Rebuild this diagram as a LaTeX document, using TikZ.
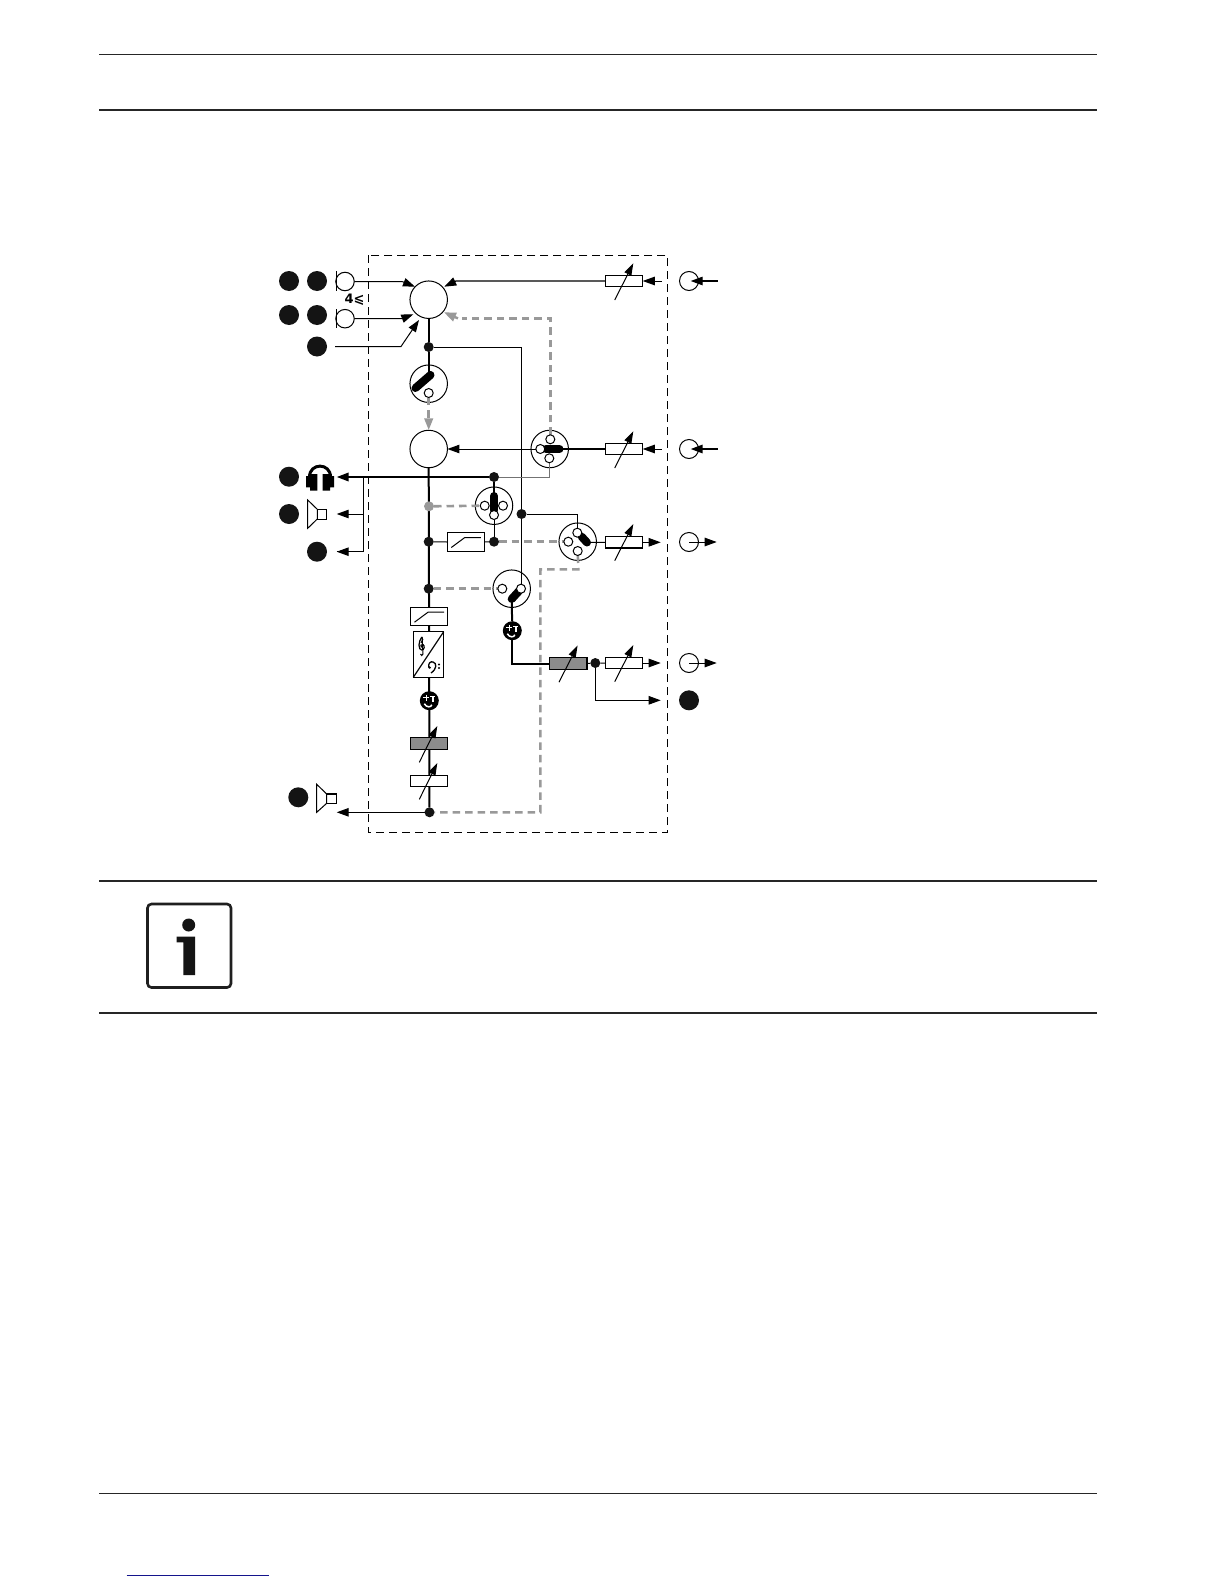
\documentclass[tikz,border=0pt]{standalone}
\usepackage{fontspec}
\setmainfont{Liberation Sans}
\newfontfamily\dejabold{DejaVu Sans}[BoldFont={DejaVu Sans Bold}]
\usetikzlibrary{arrows.meta,calc}
\pgfdeclarelayer{circs}
\pgfdeclarelayer{conns}
\pgfsetlayers{circs,conns,main}
\definecolor{pathgray}{gray}{0.6}
\definecolor{boxgray}{gray}{0.55}
\definecolor{linkblue}{RGB}{20,20,140}
\tikzset{
  x=1pt,y=-1pt,
  every node/.style={inner sep=0pt,outer sep=0pt},
  rulel/.style={line width=1.1pt,black!85},
  blackdot/.style={circle,fill=black!92,minimum size=20pt},
  jun/.style={circle,fill=black!92,minimum size=10pt},
  jungray/.style={circle,fill=pathgray,minimum size=10pt},
  bigc/.style={circle,draw=black,fill=white,line width=1pt,minimum size=37.5pt},
  contact/.style={circle,draw=black,fill=white,line width=1pt,minimum size=9pt},
  port/.style={circle,draw=black,fill=white,line width=1pt,minimum size=19pt},
  potbox/.style={draw=black,fill=white,line width=1pt,minimum width=37.5pt,minimum height=11.5pt},
  graybox/.style={draw=black,fill=boxgray,line width=1.4pt,minimum width=37.5pt,minimum height=11.5pt},
  filt/.style={draw=black,fill=white,line width=1pt,minimum width=37.5pt,minimum height=18.5pt},
  symb/.style={circle,fill=black,minimum size=19pt},
  thick line/.style={line width=2pt,black},
  thin line/.style={line width=1pt,black},
  tip/.style={-{Triangle[length=12pt,width=8.5pt]}},
  graydash/.style={line width=2.6pt,pathgray,dash pattern=on 7.5pt off 5pt},
  potarrow/.style={line width=1pt,black,-{Triangle[length=12pt,width=7.5pt]}},
  bar/.style={line width=8pt,line cap=round,black},
}
\newcommand{\filtersign}[1]{\draw[line width=1pt] ($(#1)+(-14.5,5.5)$) -- ($(#1)+(-1,-4.5)$) -- ($(#1)+(15,-4.5)$);}
\newcommand{\symmarks}[1]{%
  \draw[white,line width=1.5pt] ($(#1)+(-6,-3)$) -- ($(#1)+(0,-3)$) ($(#1)+(-3,-6)$) -- ($(#1)+(-3,0.5)$);
  \draw[white,line width=1.5pt] ($(#1)+(1,-4)$) -- ($(#1)+(6,-4)$) ($(#1)+(3.5,-4)$) -- ($(#1)+(3.5,1.5)$);
  \draw[white,line width=1.5pt] ($(#1)+(-5,3)$) .. controls ($(#1)+(-3,7)$) and ($(#1)+(2,7)$) .. ($(#1)+(2.5,4)$);
}
\begin{document}
\begin{tikzpicture}
\useasboundingbox (0,0) rectangle (1224,1584);
\begin{pgfonlayer}{circs}
\fill[white] (0,0) rectangle (1224,1584);
\end{pgfonlayer}
% page rules
\coordinate (ra1) at (99,54.5); \coordinate (ra2) at (1097,54.5);
\coordinate (rb1) at (99,110); \coordinate (rb2) at (1097,110);
\coordinate (rc1) at (99,881); \coordinate (rc2) at (1097,881);
\coordinate (rd1) at (99,1013); \coordinate (rd2) at (1097,1013);
\coordinate (re1) at (99,1493.5); \coordinate (re2) at (1097,1493.5);
\draw[rulel] (ra1)--(ra2); \draw[rulel] (rb1)--(rb2); \draw[rulel] (rc1)--(rc2); \draw[rulel] (rd1)--(rd2); \draw[rulel] (re1)--(re2);
\draw[line width=1.2pt,linkblue] (126.7,1575.3) -- (269,1575.3);
% info icon
\draw[line width=2.6pt,black!88,rounded corners=4pt] (147.5,904) rectangle (231,987.5);
\fill[black!92] (188.7,925) circle (6.5);
\fill[black!92] (176.7,936.7) -- (195,936.7) -- (195,975) -- (183.3,975) -- (183.3,942.3) -- (176.7,942.3) -- cycle;
% dashed enclosure
\begin{pgfonlayer}{circs}
\draw[line width=1pt,dash pattern=on 8pt off 5pt] (368.7,255) rectangle (667.3,832.7);
\end{pgfonlayer}
% left black dots
\node[blackdot] (d1) at (289,281) {};
\node[blackdot] (d2) at (317,281) {};
\node[blackdot] (d3) at (289,315) {};
\node[blackdot] (d4) at (317,315) {};
\node[blackdot] (d5) at (317,346.5) {};
\node[blackdot] (d6) at (289,476.7) {};
\node[blackdot] (d7) at (289,514) {};
\node[blackdot] (d8) at (317,551.7) {};
\node[blackdot] (d9) at (298.3,797.3) {};
\node[blackdot] (d10) at (689,700.3) {};
% mics
\node[port,minimum size=18.5pt] (mic1) at (345,281.5) {};
\node[port,minimum size=18.5pt] (mic2) at (345,318.7) {};
\draw[line width=1pt] (336,271) -- (336,291) (336,309) -- (336,327.5);
\node[font=\dejabold\bfseries\fontsize{13}{13}\selectfont] (four) at (354.5,299.5) {4⩽};
% headphones
\draw[line width=3pt] (309.5,477) .. controls (309.5,462.5) and (330.5,462.5) .. (330.5,477);
\fill[black] (306,476) rectangle (310,487.3) (310,474) rectangle (317.3,490.7) (322.7,474) rectangle (330,490.7) (330,476) rectangle (334,487.3);
% speakers
\draw[line width=1pt] (317.3,509.3) -- (307.7,500) -- (307.7,528.3) -- (317.3,519) -- cycle;
\draw[line width=1pt] (317.3,509.3) rectangle (326.7,519);
\draw[line width=1pt] (326.7,794) -- (316.7,784.3) -- (316.7,812.3) -- (326.7,803.3) -- cycle;
\draw[line width=1.4pt] (326.7,794) rectangle (336.7,803.3);
% large circles
\begin{pgfonlayer}{circs}
\node[bigc] (mixA) at (428.7,299.7) {};
\node[bigc] (mixB) at (428.7,449) {};
\node[bigc] (swA) at (428.7,383.7) {};
\node[bigc] (swB) at (549.7,449) {};
\node[bigc] (swC) at (494,505.7) {};
\node[bigc] (swD) at (577.7,541.7) {};
\node[bigc] (swE) at (511.7,588.7) {};
\end{pgfonlayer}
% switch bars
\coordinate (bA0) at (428.7,374);
\coordinate (bA1) at (430.5,375); \coordinate (bA2) at (415.5,388);
\coordinate (bB1) at (546,449); \coordinate (bB2) at (559.5,449);
\coordinate (bC1) at (494,496); \coordinate (bC2) at (494,510);
\coordinate (bD1) at (581.7,536.7); \coordinate (bD2) at (587,542.5);
\coordinate (bE1) at (519,591); \coordinate (bE2) at (511.7,599);
\draw[bar] (bA1)--(bA2); \draw[bar] (bB1)--(bB2); \draw[bar] (bC1)--(bC2); \draw[bar] (bD1)--(bD2); \draw[bar] (bE1)--(bE2);
% contacts
\node[contact] (cA) at (428.7,393) {};
\node[contact] (cBt) at (550.3,439.3) {};
\node[contact] (cBl) at (540.3,449) {};
\node[contact] (cBb) at (549.3,458.3) {};
\node[contact] (cCl) at (484.7,505.7) {};
\node[contact] (cCr) at (503,505.7) {};
\node[contact] (cCb) at (494,515) {};
\node[contact] (cDt) at (577.3,532.7) {};
\node[contact] (cDl) at (568.3,541.7) {};
\node[contact] (cDb) at (577.7,551) {};
\node[contact] (cEl) at (502.3,588.7) {};
\node[contact] (cEr) at (521,588.7) {};
% junctions
\node[jun] (j1) at (428.7,347) {};
\node[jun] (j2) at (494,477) {};
\node[jungray] (j3) at (429,506.3) {};
\node[jun] (j4) at (428.7,541.7) {};
\node[jun] (j5) at (494,541.7) {};
\node[jun] (j6) at (521.5,514) {};
\node[jun] (j7) at (428.7,588.7) {};
\node[jun] (j8) at (595.3,663) {};
\node[jun] (j9) at (429.5,812.3) {};
% filters, converter
\node[filt] (fA) at (465.8,542) {};
\filtersign{fA}
\node[filt] (fB) at (429,616.7) {};
\filtersign{fB}
\node[draw=black,fill=white,line width=1.2pt,minimum width=30.4pt,minimum height=45.6pt] (conv) at (428.5,654.5) {};
\draw[line width=1.2pt] (conv.south west) -- (conv.north east);
% treble clef
\draw[line width=1.2pt] (421.8,637) .. controls (420,640) and (419,642) .. (419,645) .. controls (419,648) and (420,650) .. (421.8,650) .. controls (424.5,650) and (425,645.5) .. (423,644.5) .. controls (421,644) and (420,646) .. (421.5,647.5);
\draw[line width=1pt] (421.8,637) .. controls (423.5,638) and (423,641) .. (421,643);
\draw[line width=1pt] (422,637) -- (423,654) .. controls (423,656) and (420.5,656) .. (420.5,654);
% bass clef
\draw[line width=1.3pt] (429,668) .. controls (427.5,663) and (431,661) .. (433,662) .. controls (437,663) and (437,669) .. (431,673);
\fill (429.7,667.5) circle (1.3);
\fill (439,664.5) circle (1.2) (439,668) circle (1.2);
% symbols
\node[symb] (symA) at (512.3,630.7) {};
\symmarks{symA}
\node[symb] (symB) at (429.3,700.7) {};
\symmarks{symB}
% pots
\node[potbox] (p1) at (624,281) {};
\node[potbox] (p2) at (624,449) {};
\node[potbox,line width=1.3pt] (p3) at (624,542.3) {};
\node[potbox,line width=1.3pt] (p4) at (624,663) {};
\node[graybox] (g1) at (568.3,663.5) {};
\node[graybox] (g2) at (429,743.5) {};
\node[potbox] (p5) at (429,781) {};
\draw[potarrow] (p1.center) ++(-9.3,19) -- ++(18.6,-36.7);
\draw[potarrow] (p2.center) ++(-9.3,19) -- ++(18.6,-36.7);
\draw[potarrow] (p3.center) ++(-9.3,18.4) -- ++(18.6,-36.7);
\draw[potarrow] (p4.center) ++(-9.3,18.7) -- ++(18.6,-36.7);
\draw[potarrow] (g1.center) ++(-9.3,18.7) -- ++(18.6,-36.7);
\draw[potarrow] (g2.center) ++(-9.7,18.8) -- ++(18,-36.3);
\draw[potarrow] (p5.center) ++(-9.7,18.3) -- ++(18,-36.3);
% right ports
\node[port] (o1) at (689,281) {};
\node[port] (o2) at (689,449) {};
\node[port] (o3) at (689,542) {};
\node[port] (o4) at (689,663) {};
% free ends
\coordinate (e1) at (717.7,281); \coordinate (e1b) at (690.7,281);
\coordinate (e2) at (717.7,449); \coordinate (e2b) at (690.7,449);
\coordinate (e3) at (716.7,542); \coordinate (e4) at (716.7,663);
\coordinate (in1) at (661.7,281); \coordinate (in2) at (661.7,449);
\coordinate (out3) at (660.7,542.3); \coordinate (out4) at (660.7,663); \coordinate (out5) at (660.7,700.3);
\coordinate (ml1) at (336.7,477); \coordinate (ml2) at (336.7,514); \coordinate (ml3) at (336.7,551.7); \coordinate (bus) at (363.3,477);
\coordinate (sp) at (336.7,812.3);
\coordinate (fromdot) at (335,346.5);
\draw[tip,line width=1.2pt] (e1) -- (e1b);
\draw[tip,line width=1.6pt] (e2) -- (e2b);
\draw[tip,thin line] (o3.center) -- (e3);
\draw[tip,thin line] (o4.center) -- (e4);
\draw[tip,thin line] (in1) -- (p1.east);
\draw[tip,thin line] (in2) -- (p2.east);
\draw[tip,thin line] (p3.east) -- (out3);
\draw[tip,thin line] (p4.east) -- (out4);
% connectors
\begin{pgfonlayer}{conns}
\draw[tip,thin line] (mic1.east) -- (402,281.5) -- (415,286.7);
\draw[tip,thin line] (mic2.east) -- (402,318.7) -- (413.3,314.3);
\draw[tip,thin line] (fromdot) -- (401,346.5) -- (419,320);
\draw[tip,line width=1.2pt] (p1.west) -- (456,281) -- (444.3,286.7);
\draw[tip,thin line] (swB) -- (mixB.east);
\draw[thick line] (mixA.south) -- (j1) -- (bA0);
\draw[thin line] (j1) -| (cEr);
\draw[thick line] (mixB.south) -- (j9);
\draw[tip,line width=2pt] (j2) -- (ml1);
\draw[thick line] (j2) -- (cCb);
\draw[thin line] (cCb) -- (j5);
\draw[thin line] (j4) -- (fA.west);
\draw[thin line] (fA.east) -- (j5);
\draw[line width=1.6pt] (p2.west) -- (bB2);
\draw[thin line] (swB.west) -- (bB1);
\draw[line width=1pt,black!55] (j2) -| (cBb);
\draw[thin line] (bus) |- (ml3);
\draw[tip,thin line] (bus|-ml2) -- (ml2);
\draw[tip,thin line] (bus|-ml3) -- (ml3);
\draw[thin line] (j6) -| (cDt);
\draw[thin line] (bD2) -- (p3.west);
\draw[thick line] (bE2) -- (symA);
\draw[thick line] (symA) |- (g1.west);
\draw[thin line] (g1.east) -- (j8) -- (p4.west);
\draw[tip,thin line] (j8) |- (out5);
\draw[tip,thin line] (j9) -- (sp);
\draw[graydash] (cBt) -- (550.3,318.4) -- (462,318.4);
\draw[line width=2.4pt,pathgray,-{Triangle[length=12pt,width=9pt]}] (458,318.4) -- (444,312.3);
\draw[graydash] (j3) -- (cCl);
\draw[graydash] (j5) -- (cDl);
\draw[graydash] (j7) -- (cEl);
\draw[graydash] (cDb) -- (578.3,569.3) -- (540.3,569.3) -- (540.3,812.3) -- (j9);
\draw[graydash,-{Triangle[length=12pt,width=8.5pt]}] (cA) -- (mixB.north);
\end{pgfonlayer}
\end{tikzpicture}
\end{document}
